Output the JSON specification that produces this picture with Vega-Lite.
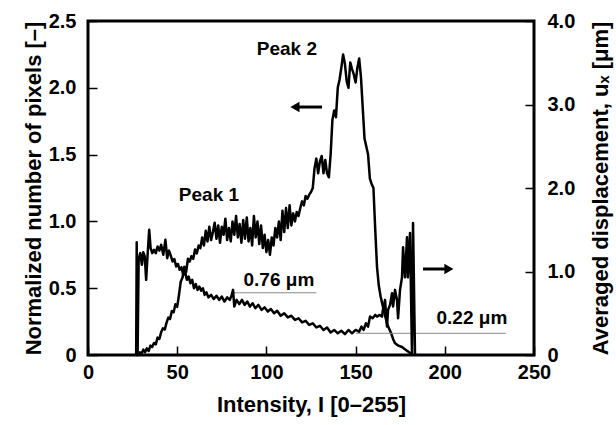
{
  "$schema": "https://vega.github.io/schema/vega-lite/v6.json",
  "width": 446,
  "height": 334,
  "autosize": {"type": "none"},
  "padding": {"left": 88, "top": 21, "right": 82, "bottom": 70},
  "background": "white",
  "config": {
    "view": {"stroke": "black", "strokeWidth": 3},
    "font": "Liberation Sans",
    "axis": {
      "domain": false,
      "grid": false,
      "ticks": true,
      "tickColor": "black",
      "tickWidth": 1.5,
      "tickSize": -9,
      "labelFont": "Liberation Sans",
      "labelFontWeight": "bold",
      "labelFontSize": 20,
      "labelColor": "black",
      "titleFont": "Liberation Sans",
      "titleFontWeight": "bold",
      "titleFontSize": 22,
      "titleColor": "black"
    }
  },
  "datasets": {
    "pixels": [
      {"intensity":27,"value":0},{"intensity":28,"value":0},{"intensity":29,"value":0.02},{"intensity":30,"value":0.01},{"intensity":31,"value":0.04},{"intensity":32,"value":0.02},{"intensity":33,"value":0.05},{"intensity":34,"value":0.03},{"intensity":35,"value":0.07},{"intensity":36,"value":0.06},{"intensity":37,"value":0.09},{"intensity":38,"value":0.08},{"intensity":39,"value":0.13},{"intensity":40,"value":0.12},{"intensity":41,"value":0.17},{"intensity":42,"value":0.2},{"intensity":43,"value":0.19},{"intensity":44,"value":0.24},{"intensity":45,"value":0.28},{"intensity":46,"value":0.27},{"intensity":47,"value":0.33},{"intensity":48,"value":0.32},{"intensity":49,"value":0.38},{"intensity":50,"value":0.36},{"intensity":51,"value":0.45},{"intensity":52,"value":0.55},{"intensity":53,"value":0.58},{"intensity":54,"value":0.66},{"intensity":55,"value":0.62},{"intensity":56,"value":0.72},{"intensity":57,"value":0.7},{"intensity":58,"value":0.74},{"intensity":59,"value":0.72},{"intensity":60,"value":0.79},{"intensity":61,"value":0.76},{"intensity":62,"value":0.82},{"intensity":63,"value":0.8},{"intensity":64,"value":0.88},{"intensity":65,"value":0.82},{"intensity":66,"value":0.93},{"intensity":67,"value":0.85},{"intensity":68,"value":0.96},{"intensity":69,"value":0.86},{"intensity":70,"value":0.92},{"intensity":71,"value":0.99},{"intensity":72,"value":0.87},{"intensity":73,"value":0.97},{"intensity":74,"value":0.84},{"intensity":75,"value":0.96},{"intensity":76,"value":0.9},{"intensity":77,"value":1.02},{"intensity":78,"value":0.86},{"intensity":79,"value":0.95},{"intensity":80,"value":0.85},{"intensity":81,"value":1.0},{"intensity":82,"value":0.9},{"intensity":83,"value":1.04},{"intensity":84,"value":0.88},{"intensity":85,"value":0.98},{"intensity":86,"value":0.84},{"intensity":87,"value":1.01},{"intensity":88,"value":0.87},{"intensity":89,"value":1.03},{"intensity":90,"value":0.85},{"intensity":91,"value":0.95},{"intensity":92,"value":0.82},{"intensity":93,"value":1.04},{"intensity":94,"value":0.88},{"intensity":95,"value":1.0},{"intensity":96,"value":0.83},{"intensity":97,"value":0.97},{"intensity":98,"value":0.8},{"intensity":99,"value":0.9},{"intensity":100,"value":0.77},{"intensity":101,"value":0.86},{"intensity":102,"value":0.75},{"intensity":103,"value":0.88},{"intensity":104,"value":0.82},{"intensity":105,"value":0.95},{"intensity":106,"value":0.88},{"intensity":107,"value":1.0},{"intensity":108,"value":0.86},{"intensity":109,"value":1.08},{"intensity":110,"value":0.92},{"intensity":111,"value":1.1},{"intensity":112,"value":0.95},{"intensity":113,"value":1.12},{"intensity":114,"value":0.97},{"intensity":115,"value":1.06},{"intensity":116,"value":1.0},{"intensity":117,"value":1.07},{"intensity":118,"value":1.04},{"intensity":119,"value":1.1},{"intensity":120,"value":1.15},{"intensity":121,"value":1.12},{"intensity":122,"value":1.19},{"intensity":123,"value":1.17},{"intensity":124,"value":1.2},{"intensity":125,"value":1.22},{"intensity":126,"value":1.25},{"intensity":127,"value":1.4},{"intensity":128,"value":1.47},{"intensity":129,"value":1.36},{"intensity":130,"value":1.45},{"intensity":131,"value":1.49},{"intensity":132,"value":1.36},{"intensity":133,"value":1.46},{"intensity":134,"value":1.36},{"intensity":135,"value":1.33},{"intensity":136,"value":1.5},{"intensity":137,"value":1.76},{"intensity":138,"value":1.83},{"intensity":139,"value":1.78},{"intensity":140,"value":2.0},{"intensity":141,"value":2.06},{"intensity":142,"value":2.15},{"intensity":143,"value":2.25},{"intensity":144,"value":2.18},{"intensity":145,"value":2.05},{"intensity":146,"value":2.0},{"intensity":147,"value":2.19},{"intensity":148,"value":2.14},{"intensity":149,"value":2.1},{"intensity":150,"value":2.04},{"intensity":151,"value":2.15},{"intensity":152,"value":2.22},{"intensity":153,"value":2.08},{"intensity":154,"value":1.85},{"intensity":155,"value":1.62},{"intensity":156,"value":1.56},{"intensity":157,"value":1.5},{"intensity":158,"value":1.32},{"intensity":159,"value":1.28},{"intensity":160,"value":1.25},{"intensity":161,"value":0.94},{"intensity":162,"value":0.66},{"intensity":163,"value":0.52},{"intensity":164,"value":0.44},{"intensity":165,"value":0.38},{"intensity":166,"value":0.32},{"intensity":167,"value":0.27},{"intensity":168,"value":0.22},{"intensity":169,"value":0.19},{"intensity":170,"value":0.16},{"intensity":171,"value":0.12},{"intensity":172,"value":0.09},{"intensity":174,"value":0.07},{"intensity":176,"value":0.06},{"intensity":178,"value":0.04},{"intensity":180,"value":0.02},{"intensity":181,"value":0.01},{"intensity":182,"value":0}
    ],
    "displacement": [
      {"intensity":27,"value":0},{"intensity":27.3,"value":1.35},{"intensity":27.8,"value":0.02},{"intensity":28.4,"value":1.15},{"intensity":29.3,"value":1.22},{"intensity":30.2,"value":1.08},{"intensity":31,"value":1.23},{"intensity":31.8,"value":1.18},{"intensity":32.6,"value":0.9},{"intensity":33.4,"value":1.2},{"intensity":34.3,"value":1.5},{"intensity":35.1,"value":1.28},{"intensity":36,"value":1.22},{"intensity":37,"value":1.26},{"intensity":38,"value":1.22},{"intensity":39,"value":1.3},{"intensity":40,"value":1.25},{"intensity":41,"value":1.32},{"intensity":42.2,"value":1.2},{"intensity":43.4,"value":1.38},{"intensity":44.4,"value":1.16},{"intensity":45.4,"value":1.25},{"intensity":46.4,"value":1.19},{"intensity":47.4,"value":1.12},{"intensity":48.4,"value":1.15},{"intensity":49.4,"value":1.06},{"intensity":50.4,"value":1.09},{"intensity":51.4,"value":1.02},{"intensity":52.4,"value":1.05},{"intensity":53.4,"value":0.96},{"intensity":54.4,"value":1.0},{"intensity":55.4,"value":0.9},{"intensity":56.4,"value":0.94},{"intensity":57.4,"value":0.86},{"intensity":58.4,"value":0.9},{"intensity":59.4,"value":0.8},{"intensity":60.4,"value":0.85},{"intensity":61.4,"value":0.78},{"intensity":62.4,"value":0.82},{"intensity":63.4,"value":0.77},{"intensity":64.4,"value":0.8},{"intensity":65.4,"value":0.72},{"intensity":66.4,"value":0.75},{"intensity":67.5,"value":0.69},{"intensity":69,"value":0.72},{"intensity":70.5,"value":0.67},{"intensity":72,"value":0.71},{"intensity":73.5,"value":0.66},{"intensity":75,"value":0.7},{"intensity":76.5,"value":0.64},{"intensity":78,"value":0.69},{"intensity":79.5,"value":0.66},{"intensity":80.6,"value":0.72},{"intensity":81.3,"value":0.78},{"intensity":82,"value":0.58},{"intensity":83.3,"value":0.66},{"intensity":84.8,"value":0.61},{"intensity":86.3,"value":0.66},{"intensity":87.8,"value":0.6},{"intensity":89.3,"value":0.64},{"intensity":90.8,"value":0.58},{"intensity":92.3,"value":0.62},{"intensity":93.8,"value":0.56},{"intensity":95.5,"value":0.6},{"intensity":97.3,"value":0.54},{"intensity":99,"value":0.57},{"intensity":100.8,"value":0.52},{"intensity":102.5,"value":0.55},{"intensity":104.3,"value":0.5},{"intensity":106,"value":0.53},{"intensity":108,"value":0.47},{"intensity":110,"value":0.5},{"intensity":112,"value":0.45},{"intensity":114,"value":0.47},{"intensity":116,"value":0.42},{"intensity":118,"value":0.44},{"intensity":120,"value":0.39},{"intensity":122,"value":0.41},{"intensity":124,"value":0.36},{"intensity":126,"value":0.38},{"intensity":128,"value":0.33},{"intensity":130,"value":0.35},{"intensity":132,"value":0.3},{"intensity":134,"value":0.33},{"intensity":136,"value":0.27},{"intensity":138,"value":0.3},{"intensity":140,"value":0.26},{"intensity":142,"value":0.29},{"intensity":144,"value":0.25},{"intensity":146,"value":0.3},{"intensity":148,"value":0.26},{"intensity":150,"value":0.3},{"intensity":152,"value":0.28},{"intensity":153.3,"value":0.34},{"intensity":154.5,"value":0.3},{"intensity":155.8,"value":0.38},{"intensity":157,"value":0.34},{"intensity":158.1,"value":0.46},{"intensity":159.5,"value":0.44},{"intensity":161,"value":0.48},{"intensity":162,"value":0.46},{"intensity":163.5,"value":0.48},{"intensity":164.8,"value":0.46},{"intensity":165.3,"value":0.54},{"intensity":166.5,"value":0.66},{"intensity":167.6,"value":0.34},{"intensity":168.2,"value":0.54},{"intensity":169.3,"value":0.6},{"intensity":170.4,"value":0.74},{"intensity":171,"value":0.58},{"intensity":172.1,"value":0.78},{"intensity":173.2,"value":0.66},{"intensity":173.8,"value":0.44},{"intensity":174.9,"value":0.78},{"intensity":176,"value":0.93},{"intensity":176.6,"value":1.29},{"intensity":177.7,"value":0.93},{"intensity":178.8,"value":1.41},{"intensity":179.3,"value":0.93},{"intensity":180.5,"value":1.46},{"intensity":181.6,"value":0.02},{"intensity":182.2,"value":1.58},{"intensity":183.3,"value":0}
    ],
    "leftNotes": [
      {"intensity": 111.5, "value": 2.29, "label": "Peak 2"},
      {"intensity": 67.8, "value": 1.2, "label": "Peak 1"}
    ],
    "leftArrow": [{"intensity": 116, "intensity2": 131.2, "value": 1.856}],
    "leftHead": [{"intensity": 116, "value": 1.856}],
    "rightNotes": [
      {"intensity": 107, "value": 0.9, "label": "0.76 μm"},
      {"intensity": 215.2, "value": 0.44, "label": "0.22 μm"}
    ],
    "levels": [
      {"intensity": 80, "intensity2": 128, "value": 0.745},
      {"intensity": 150, "intensity2": 234.3, "value": 0.26}
    ],
    "rightArrow": [{"intensity": 187.8, "intensity2": 202.3, "value": 1.03}],
    "rightHead": [{"intensity": 202.3, "value": 1.03}]
  },
  "encoding": {
    "x": {
      "field": "intensity",
      "type": "quantitative",
      "scale": {"domain": [0, 250], "nice": false},
      "axis": {"values": [0, 50, 100, 150, 200, 250], "title": "Intensity, I [0–255]", "labelFlush": false, "labelPadding": 16, "titlePadding": 12}
    }
  },
  "layer": [
    {
      "encoding": {
        "y": {
          "field": "value",
          "type": "quantitative",
          "scale": {"domain": [0, 2.5], "nice": false},
          "axis": {
            "orient": "left",
            "values": [0, 0.5, 1, 1.5, 2, 2.5],
            "labelExpr": "datum.value == 0 ? '0' : format(datum.value, '.1f')",
            "labelFlush": false,
            "title": "Normalized number of pixels [–]",
            "labelPadding": 21,
            "titlePadding": 3
          }
        }
      },
      "layer": [
        {"data": {"name": "pixels"}, "mark": {"type": "line", "color": "black", "strokeWidth": 2.5, "strokeJoin": "round"}},
        {"data": {"name": "leftNotes"}, "mark": {"type": "text", "font": "Liberation Sans", "fontWeight": "bold", "fontSize": 19, "color": "black", "align": "center", "baseline": "middle"}, "encoding": {"text": {"field": "label"}}},
        {"data": {"name": "leftArrow"}, "mark": {"type": "rule", "color": "black", "strokeWidth": 3}, "encoding": {"x2": {"field": "intensity2"}}},
        {"data": {"name": "leftHead"}, "mark": {"type": "point", "shape": "triangle-left", "filled": true, "size": 110, "color": "black", "opacity": 1}}
      ]
    },
    {
      "encoding": {
        "y": {
          "field": "value",
          "type": "quantitative",
          "scale": {"domain": [0, 4], "nice": false},
          "axis": {
            "orient": "right",
            "values": [0, 1, 2, 3, 4],
            "labelExpr": "datum.value == 0 ? '0' : format(datum.value, '.1f')",
            "labelAlign": "left",
            "labelFlush": false,
            "title": "Averaged displacement, uₓ [μm]",
            "titleAngle": 270,
            "titleBaseline": "top",
            "labelPadding": 22,
            "titlePadding": 16
          }
        }
      },
      "layer": [
        {"data": {"name": "levels"}, "mark": {"type": "rule", "color": "#888888", "strokeWidth": 1}, "encoding": {"x2": {"field": "intensity2"}}},
        {"data": {"name": "displacement"}, "mark": {"type": "line", "color": "black", "strokeWidth": 2.5, "strokeJoin": "round"}},
        {"data": {"name": "rightNotes"}, "mark": {"type": "text", "font": "Liberation Sans", "fontWeight": "bold", "fontSize": 19, "color": "black", "align": "center", "baseline": "middle"}, "encoding": {"text": {"field": "label"}}},
        {"data": {"name": "rightArrow"}, "mark": {"type": "rule", "color": "black", "strokeWidth": 3}, "encoding": {"x2": {"field": "intensity2"}}},
        {"data": {"name": "rightHead"}, "mark": {"type": "point", "shape": "triangle-right", "filled": true, "size": 110, "color": "black", "opacity": 1}}
      ]
    }
  ],
  "resolve": {"scale": {"y": "independent"}}
}
